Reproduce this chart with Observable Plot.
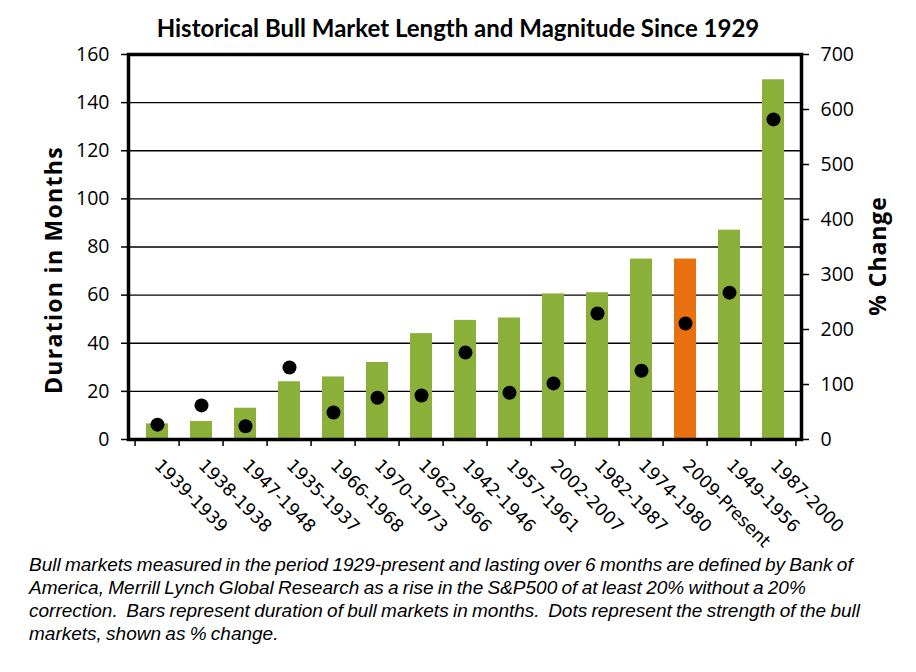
<!DOCTYPE html>
<html>
<head>
<meta charset="utf-8">
<script src="https://cdn.jsdelivr.net/npm/d3@7"></script>
<script src="https://cdn.jsdelivr.net/npm/@observablehq/plot@0.6"></script>
<style>
  html, body { margin: 0; padding: 0; background: #fff; }
  #wrap { position: relative; width: 916px; height: 672px; overflow: hidden; background: #fff; }
  #title { position: absolute; left: 0; width: 916px; top: 16px; text-align: center; line-height: 24px;
           font-family: Lato, "Open Sans", sans-serif; font-weight: bold; font-size: 24px; color: #000; }
  #chart { position: absolute; left: 0; top: 0; }
  #caption { position: absolute; left: 29px; top: 553px; font-family: "Liberation Sans", Arial, sans-serif;
             font-style: italic; font-size: 19px; line-height: 23px; color: #000; letter-spacing: 0px; word-spacing: -1px; }
  #caption div { white-space: nowrap; }
</style>
</head>
<body>
<div id="wrap">
  <div id="chart"></div>
  <div id="title">Historical Bull Market Length and Magnitude Since 1929</div>
  <div id="caption">
    <div>Bull markets measured in the period 1929-present and lasting over 6 months are defined by Bank of</div>
    <div>America, Merrill Lynch Global Research as a rise in the S&amp;P500 of at least 20% without a 20%</div>
    <div>correction.&nbsp; Bars represent duration of bull markets in months.&nbsp; Dots represent the strength of the bull</div>
    <div>markets, shown as % change.</div>
  </div>
</div>
<script>
const periods = ["1939-1939","1938-1938","1947-1948","1935-1937","1966-1968","1970-1973","1962-1966","1942-1946","1957-1961","2002-2007","1982-1987","1974-1980","2009-Present","1949-1956","1987-2000"];
const months = [6.5, 7.5, 13, 24, 26, 32, 44, 49.5, 50.5, 60.5, 61, 75, 75, 87, 149.5];
const pctChange = [27, 62, 24, 131, 49, 76, 80, 158, 85, 102, 229, 125, 211, 267, 582];
const currentPeriod = "2009-Present";
const leftTicks = [0, 20, 40, 60, 80, 100, 120, 140, 160];
const rightTicks = [0, 100, 200, 300, 400, 500, 600, 700];
const leftMax = 160, rightMax = 700;
const leftTitle = "Duration in Months";
const rightTitle = "% Change";

const data = periods.map((p, i) => ({period: p, months: months[i], pct: pctChange[i]}));
const toLeft = v => v * leftMax / rightMax;

const W = 916, H = 545;
const mL = 128, mR = 115, mT = 54, mB = H - 439;
const step = (W - mL - mR) / periods.length;

const tickFont = "'Open Sans', Lato, sans-serif";
const titleFont = "'Open Sans', Lato, sans-serif";

const chart = Plot.plot({
  width: W, height: H,
  marginLeft: mL, marginRight: mR, marginTop: mT, marginBottom: mB,
  style: {background: "white", color: "black", overflow: "visible"},
  x: {domain: periods, paddingInner: 0.5, paddingOuter: 0.25, axis: null},
  y: {domain: [0, leftMax], axis: null},
  marks: [
    Plot.gridY(leftTicks.slice(1, -1), {stroke: "black", strokeOpacity: 1, strokeWidth: 1.4}),
    Plot.barY(data, {x: "period", y: "months", fill: d => d.period === currentPeriod ? "#E8700F" : "#8AB03A"}),
    Plot.dot(data, {x: "period", y: d => toLeft(d.pct), r: 7, fill: "black", stroke: "none"}),
    Plot.frame({stroke: "black", strokeWidth: 3.5}),
    // left axis
    Plot.axisY(leftTicks, {anchor: "left", tickSize: 7, tickPadding: 12, strokeWidth: 1.5,
      fontSize: 19.5, fontFamily: tickFont, label: null}),
    // right axis (% change) mapped onto the same scale
    Plot.axisY(rightTicks.map(toLeft), {anchor: "right", tickSize: 7, tickPadding: 12, strokeWidth: 1.5,
      tickFormat: d => String(Math.round(d * rightMax / leftMax)),
      fontSize: 19.5, fontFamily: tickFont, label: null}),
    // bottom ticks at category boundaries
    Plot.axisX(periods, {anchor: "bottom", tickSize: 7, strokeWidth: 1.5, tickFormat: () => "", dx: -step / 2, label: null}),
    Plot.axisX(periods.slice(-1), {anchor: "bottom", tickSize: 7, strokeWidth: 1.5, tickFormat: () => "", dx: step / 2, label: null}),
    // rotated category labels
    Plot.axisX(periods, {anchor: "bottom", tickSize: 0, tickRotate: 45, tickPadding: 23, dx: 0,
      textAnchor: "start", fontSize: 17.4, fontFamily: "'DejaVu Sans', Verdana, sans-serif", label: null}),
    // axis titles
    Plot.text([leftTitle], {frameAnchor: "left", dx: -74, dy: 23, rotate: -90,
      textAnchor: "middle", lineAnchor: "middle",
      fontSize: 23, fontWeight: "bold", fontFamily: titleFont, fill: "black"}),
    Plot.text([rightTitle], {frameAnchor: "right", dx: 77, dy: 9, rotate: -90,
      textAnchor: "middle", lineAnchor: "middle",
      fontSize: 23, fontWeight: "bold", fontFamily: titleFont, fill: "black"})
  ]
});
d3.select(chart).selectAll("text").each(function() {
  const t = this.textContent;
  if (t === leftTitle) this.style.letterSpacing = "1.3px";
  if (t === rightTitle) this.style.letterSpacing = "0.9px";
});
document.getElementById("chart").appendChild(chart);
</script>
</body>
</html>
